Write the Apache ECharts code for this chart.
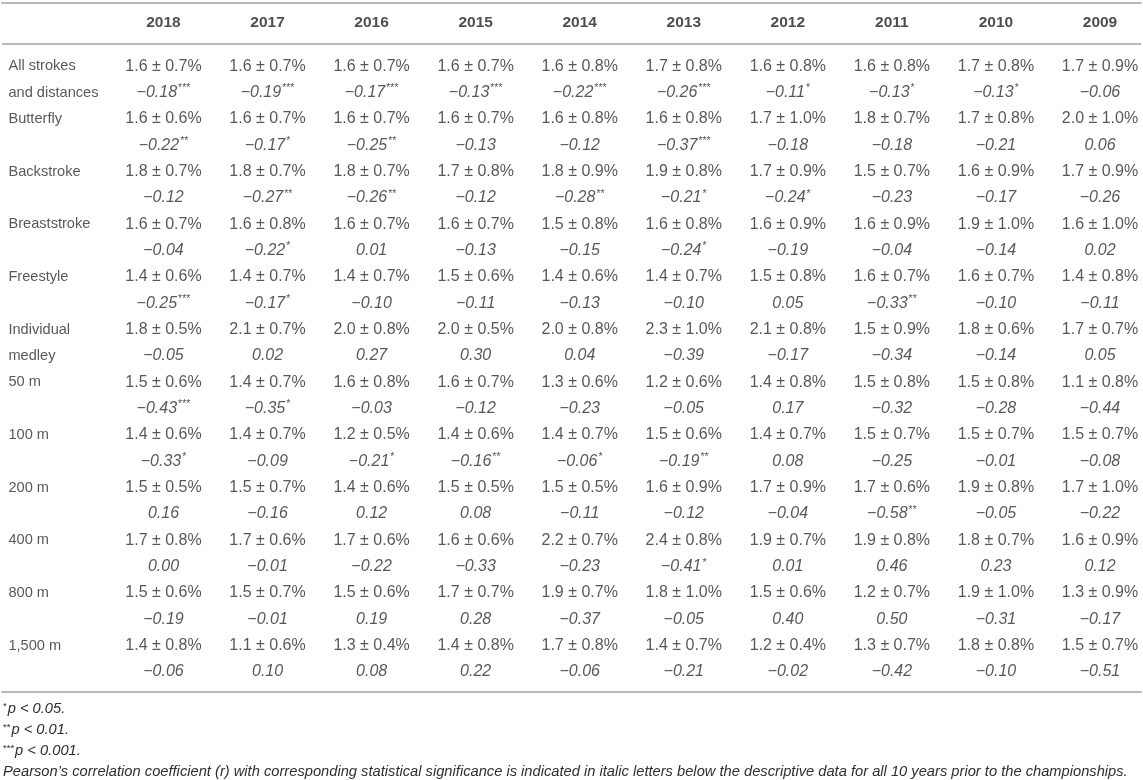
<!DOCTYPE html>
<html>
<head>
<meta charset="utf-8">
<script src="https://cdn.jsdelivr.net/npm/echarts@6/dist/echarts.min.js"></script>
<style>
  html, body { margin: 0; padding: 0; background: #fff; }
  #main { width: 1143px; height: 780px; }
</style>
</head>
<body>
<div id="main"></div>
<script>
// column heads
var years = ['2018', '2017', '2016', '2015', '2014', '2013', '2012', '2011', '2010', '2009'];

// row heads (\n = second line of the label)
var rowLabels = ['All strokes\nand distances', 'Butterfly', 'Backstroke', 'Breaststroke', 'Freestyle',
  'Individual\nmedley', '50 m', '100 m', '200 m', '400 m', '800 m', '1,500 m'];

// mean (%) per row, one value per year
var meanPct = [
  [1.6, 1.6, 1.6, 1.6, 1.6, 1.7, 1.6, 1.6, 1.7, 1.7],
  [1.6, 1.6, 1.6, 1.6, 1.6, 1.6, 1.7, 1.8, 1.7, 2.0],
  [1.8, 1.8, 1.8, 1.7, 1.8, 1.9, 1.7, 1.5, 1.6, 1.7],
  [1.6, 1.6, 1.6, 1.6, 1.5, 1.6, 1.6, 1.6, 1.9, 1.6],
  [1.4, 1.4, 1.4, 1.5, 1.4, 1.4, 1.5, 1.6, 1.6, 1.4],
  [1.8, 2.1, 2.0, 2.0, 2.0, 2.3, 2.1, 1.5, 1.8, 1.7],
  [1.5, 1.4, 1.6, 1.6, 1.3, 1.2, 1.4, 1.5, 1.5, 1.1],
  [1.4, 1.4, 1.2, 1.4, 1.4, 1.5, 1.4, 1.5, 1.5, 1.5],
  [1.5, 1.5, 1.4, 1.5, 1.5, 1.6, 1.7, 1.7, 1.9, 1.7],
  [1.7, 1.7, 1.7, 1.6, 2.2, 2.4, 1.9, 1.9, 1.8, 1.6],
  [1.5, 1.5, 1.5, 1.7, 1.9, 1.8, 1.5, 1.2, 1.9, 1.3],
  [1.4, 1.1, 1.3, 1.4, 1.7, 1.4, 1.2, 1.3, 1.8, 1.5]
];

// standard deviation (%)
var sdPct = [
  [0.7, 0.7, 0.7, 0.7, 0.8, 0.8, 0.8, 0.8, 0.8, 0.9],
  [0.6, 0.7, 0.7, 0.7, 0.8, 0.8, 1.0, 0.7, 0.8, 1.0],
  [0.7, 0.7, 0.7, 0.8, 0.9, 0.8, 0.9, 0.7, 0.9, 0.9],
  [0.7, 0.8, 0.7, 0.7, 0.8, 0.8, 0.9, 0.9, 1.0, 1.0],
  [0.6, 0.7, 0.7, 0.6, 0.6, 0.7, 0.8, 0.7, 0.7, 0.8],
  [0.5, 0.7, 0.8, 0.5, 0.8, 1.0, 0.8, 0.9, 0.6, 0.7],
  [0.6, 0.7, 0.8, 0.7, 0.6, 0.6, 0.8, 0.8, 0.8, 0.8],
  [0.6, 0.7, 0.5, 0.6, 0.7, 0.6, 0.7, 0.7, 0.7, 0.7],
  [0.5, 0.7, 0.6, 0.5, 0.5, 0.9, 0.9, 0.6, 0.8, 1.0],
  [0.8, 0.6, 0.6, 0.6, 0.7, 0.8, 0.7, 0.8, 0.7, 0.9],
  [0.6, 0.7, 0.6, 0.7, 0.7, 1.0, 0.6, 0.7, 1.0, 0.9],
  [0.8, 0.6, 0.4, 0.8, 0.8, 0.7, 0.4, 0.7, 0.8, 0.7]
];

// Pearson's r
var pearsonR = [
  [-0.18, -0.19, -0.17, -0.13, -0.22, -0.26, -0.11, -0.13, -0.13, -0.06],
  [-0.22, -0.17, -0.25, -0.13, -0.12, -0.37, -0.18, -0.18, -0.21, 0.06],
  [-0.12, -0.27, -0.26, -0.12, -0.28, -0.21, -0.24, -0.23, -0.17, -0.26],
  [-0.04, -0.22, 0.01, -0.13, -0.15, -0.24, -0.19, -0.04, -0.14, 0.02],
  [-0.25, -0.17, -0.10, -0.11, -0.13, -0.10, 0.05, -0.33, -0.10, -0.11],
  [-0.05, 0.02, 0.27, 0.30, 0.04, -0.39, -0.17, -0.34, -0.14, 0.05],
  [-0.43, -0.35, -0.03, -0.12, -0.23, -0.05, 0.17, -0.32, -0.28, -0.44],
  [-0.33, -0.09, -0.21, -0.16, -0.06, -0.19, 0.08, -0.25, -0.01, -0.08],
  [0.16, -0.16, 0.12, 0.08, -0.11, -0.12, -0.04, -0.58, -0.05, -0.22],
  [0.00, -0.01, -0.22, -0.33, -0.23, -0.41, 0.01, 0.46, 0.23, 0.12],
  [-0.19, -0.01, 0.19, 0.28, -0.37, -0.05, 0.40, 0.50, -0.31, -0.17],
  [-0.06, 0.10, 0.08, 0.22, -0.06, -0.21, -0.02, -0.42, -0.10, -0.51]
];

// significance marks
var sigStars = [
  ['***', '***', '***', '***', '***', '***', '*', '*', '*', ''],
  ['**', '*', '**', '', '', '***', '', '', '', ''],
  ['', '**', '**', '', '**', '*', '*', '', '', ''],
  ['', '*', '', '', '', '*', '', '', '', ''],
  ['***', '*', '', '', '', '', '', '**', '', ''],
  ['', '', '', '', '', '', '', '', '', ''],
  ['***', '*', '', '', '', '', '', '', '', ''],
  ['*', '', '*', '**', '*', '**', '', '', '', ''],
  ['', '', '', '', '', '', '', '**', '', ''],
  ['', '', '', '', '', '*', '', '', '', ''],
  ['', '', '', '', '', '', '', '', '', ''],
  ['', '', '', '', '', '', '', '', '', '']
];

var footStars = ['*', '**', '***', ''];
var footTexts = ['p < 0.05.', 'p < 0.01.', 'p < 0.001.',
  'Pearson\u2019s correlation coefficient (r) with corresponding statistical significance is indicated in italic letters below the descriptive data for all 10 years prior to the championships.'];

var FONT = "'Liberation Sans', Arial, Helvetica, sans-serif";
var TXT = '#2e2e2e';
var RULE = '#b9b9b9';

var labelX = -0.49;   // row-head column on the x scale
var headY = -1.64;    // header line on the y scale
var headRuleY = -0.84;

function fmtR(v) {
  return v.toFixed(2).replace('-', '\u2212');
}

// build cell lists
var headData = years.map(function (y, k) { return [k + 1, headY, y]; });
var labelData = [];
rowLabels.forEach(function (lab, g) {
  lab.split('\n').forEach(function (t, j) { labelData.push([labelX, 2 * g + j, t]); });
});
var meanData = [];
var rData = [];
meanPct.forEach(function (row, g) {
  row.forEach(function (m, k) {
    meanData.push([k + 1, 2 * g, m.toFixed(1) + ' \u00b1 ' + sdPct[g][k].toFixed(1) + '%']);
    rData.push([k + 1, 2 * g + 1, pearsonR[g][k], sigStars[g][k]]);
  });
});

var chart = echarts.init(document.getElementById('main'), null, { renderer: 'canvas' });

var axisBase = {
  type: 'value', min: -0.552, max: 10.394,
  axisLine: { show: true, onZero: false, lineStyle: { color: RULE, width: 2 } },
  axisTick: { show: false }, axisLabel: { show: false }, splitLine: { show: false }
};

var option = {
  animation: false,
  backgroundColor: '#fff',
  grid: { left: 2, right: 2, top: 3, bottom: 88 },
  xAxis: [
    Object.assign({ position: 'top' }, axisBase),
    Object.assign({ position: 'bottom' }, axisBase)
  ],
  yAxis: { type: 'value', inverse: true, min: -2.4, max: 23.76, show: false },
  graphic: footTexts.map(function (t, i) {
    return {
      type: 'text', left: 3, top: 701 + i * 21,
      style: {
        text: (footStars[i] ? '{s|' + footStars[i] + '}' : '') + '{t|' + t + '}',
        rich: {
          t: { fontFamily: FONT, fontSize: 14.7, fontStyle: 'italic', fill: TXT },
          s: { fontFamily: FONT, fontSize: 9.5, fill: TXT, padding: [0, 1, 4, 0] }
        }
      }
    };
  }),
  series: [
    {
      type: 'scatter', name: 'head', silent: true, symbolSize: 0, data: headData,
      label: { show: true, position: 'inside', formatter: function (p) { return p.data[2]; },
        fontFamily: FONT, fontSize: 15.5, fontWeight: 'bold', color: '#222' },
      markLine: {
        silent: true, symbol: 'none', label: { show: false },
        lineStyle: { color: RULE, width: 2, type: 'solid' },
        data: [{ yAxis: headRuleY }]
      }
    },
    {
      type: 'scatter', name: 'rowhead', silent: true, symbolSize: 0, data: labelData,
      label: { show: true, position: 'right', distance: 0, formatter: function (p) { return p.data[2]; },
        fontFamily: FONT, fontSize: 14.6, color: TXT }
    },
    {
      type: 'scatter', name: 'mean', silent: true, symbolSize: 0, data: meanData,
      label: { show: true, position: 'inside', formatter: function (p) { return p.data[2]; },
        fontFamily: FONT, fontSize: 16, color: TXT }
    },
    {
      type: 'scatter', name: 'r', silent: true, symbolSize: 0, data: rData,
      label: {
        show: true, position: 'inside',
        formatter: function (p) {
          var s = '{n|' + fmtR(p.data[2]) + '}';
          if (p.data[3]) s += '{s|' + p.data[3] + '}';
          return s;
        },
        rich: {
          n: { fontFamily: FONT, fontSize: 16, fontStyle: 'italic', color: TXT },
          s: { fontFamily: FONT, fontSize: 10.5, color: TXT, padding: [0, 0, 8, 1] }
        }
      }
    }
  ]
};

chart.setOption(option);
</script>
</body>
</html>
